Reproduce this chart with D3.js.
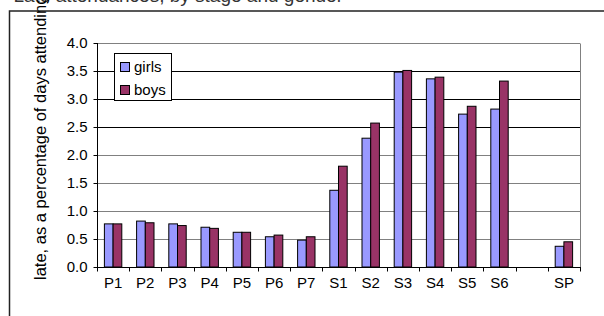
<!DOCTYPE html>
<meta charset="utf-8">
<head>
<title>Late attendances by stage and gender</title>
<script type="text/javascript" src="https://d3js.org/d3.v7.min.js"></script>
<style>
    body { margin: 0; background: #fff; }
    text { font-family: "Liberation Sans", Arial, sans-serif; fill: #000; }
</style>
</head>
<body>
<div id="chart"></div>
<script>
    // data
    var stages = ["P1", "P2", "P3", "P4", "P5", "P6", "P7", "S1", "S2", "S3", "S4", "S5", "S6", "", "SP"];
    var girls = [0.77, 0.82, 0.77, 0.71, 0.62, 0.54, 0.48, 1.37, 2.30, 3.48, 3.36, 2.73, 2.82, null, 0.37];
    var boys  = [0.77, 0.79, 0.74, 0.69, 0.62, 0.57, 0.54, 1.80, 2.57, 3.51, 3.39, 2.87, 3.32, null, 0.45];
    var yTicks = [0, 0.5, 1, 1.5, 2, 2.5, 3, 3.5, 4];
    var series = ["girls", "boys"];
    var colors = {girls: "#9999ff", boys: "#993366"};

    var width = 604, height = 316;
    var plot = {left: 97, right: 580, top: 43, bottom: 267};

    var svg = d3.select("#chart").append("svg")
        .attr("width", width)
        .attr("height", height);

    // title, mostly cut off at the top
    svg.append("text")
        .attr("x", 343).attr("y", 2)
        .attr("text-anchor", "end")
        .style("font-size", "19px")
        .style("fill", "#333")
        .text("Late attendances, by stage and gender");

    // outer chart frame (runs off the picture)
    svg.append("path")
        .attr("d", "M9.5," + (height + 5) + "V11H" + (width + 5))
        .attr("fill", "none")
        .attr("stroke", "#222")
        .attr("stroke-width", 1.5);

    var x = d3.scaleBand().domain(d3.range(stages.length))
        .range([plot.left, plot.right]);
    var xInner = d3.scaleBand().domain(series)
        .range([0, x.bandwidth()]).paddingOuter(0.85).paddingInner(0);
    var y = d3.scaleLinear().domain([0, 4]).range([plot.bottom, plot.top]);

    // grid lines
    svg.append("g").selectAll("line")
        .data(yTicks.filter(function (d) { return d > 0; }))
        .enter().append("line")
        .attr("x1", plot.left).attr("x2", plot.right)
        .attr("y1", function (d) { return Math.round(y(d)) + 0.5; })
        .attr("y2", function (d) { return Math.round(y(d)) + 0.5; })
        .attr("stroke", function (d) { return d >= 2.5 && d < 4 ? "#000" : "#808080"; });

    // right border of plot area
    svg.append("line")
        .attr("x1", plot.right + 0.5).attr("x2", plot.right + 0.5)
        .attr("y1", Math.round(y(4)) + 0.5).attr("y2", plot.bottom)
        .attr("stroke", "#808080");

    // bars
    var rows = stages.map(function (s, i) { return {i: i, girls: girls[i], boys: boys[i]}; });
    var groups = svg.append("g").selectAll("g")
        .data(rows)
        .enter().append("g")
        .attr("transform", function (d) { return "translate(" + x(d.i) + ",0)"; });
    groups.selectAll("rect")
        .data(function (d) {
            return series.filter(function (k) { return d[k] != null; })
                .map(function (k) { return {key: k, value: d[k]}; });
        })
        .enter().append("rect")
        .attr("x", function (d) { return xInner(d.key); })
        .attr("width", xInner.bandwidth())
        .attr("y", function (d) { return y(d.value); })
        .attr("height", function (d) { return y(0) - y(d.value); })
        .attr("fill", function (d) { return colors[d.key]; })
        .attr("stroke", "#000")
        .attr("stroke-width", 1);

    // y axis
    var yAxis = svg.append("g")
        .attr("transform", "translate(" + (plot.left + 0.5) + ",0)")
        .call(d3.axisLeft(y).tickValues(yTicks).tickFormat(d3.format(".1f"))
            .tickSize(4).tickPadding(6));
    yAxis.select(".domain").attr("stroke", "#000").attr("d", "M0," + y(4) + "V" + (plot.bottom + 0.5));
    yAxis.selectAll(".tick line").attr("stroke", "#000");
    yAxis.selectAll("text").style("font-size", "15px").attr("fill", "#000");

    // x axis: ticks between categories
    var xAxis = svg.append("g")
        .attr("transform", "translate(0," + (plot.bottom + 0.5) + ")");
    xAxis.append("line")
        .attr("x1", plot.left).attr("x2", plot.right + 1)
        .attr("stroke", "#000");
    xAxis.selectAll("line.tk")
        .data(d3.range(stages.length + 1))
        .enter().append("line")
        .attr("class", "tk")
        .attr("x1", function (d) { return Math.round(plot.left + d * x.step()) + 0.5; })
        .attr("x2", function (d) { return Math.round(plot.left + d * x.step()) + 0.5; })
        .attr("y1", 0).attr("y2", 4)
        .attr("stroke", "#000");
    xAxis.selectAll("text")
        .data(stages)
        .enter().append("text")
        .attr("x", function (d, i) { return x(i) + x.bandwidth() / 2; })
        .attr("y", 20)
        .attr("text-anchor", "middle")
        .style("font-size", "15px")
        .text(function (d) { return d; });

    // y axis title
    svg.append("text")
        .attr("transform", "translate(46,280) rotate(-90)")
        .attr("text-anchor", "start")
        .style("font-size", "16.5px")
        .text("late, as a percentage of days attending");

    // legend
    var lg = svg.append("g").attr("transform", "translate(114,53)");
    lg.append("rect")
        .attr("x", 0.5).attr("y", 0.5)
        .attr("width", 57).attr("height", 47)
        .attr("fill", "#fff").attr("stroke", "#000");
    var items = lg.selectAll("g.item")
        .data(series)
        .enter().append("g")
        .attr("class", "item")
        .attr("transform", function (d, i) { return "translate(6," + (9 + i * 23) + ")"; });
    items.append("rect")
        .attr("x", 0.5).attr("y", 0.5)
        .attr("width", 9).attr("height", 9)
        .attr("fill", function (d) { return colors[d]; })
        .attr("stroke", "#000");
    items.append("text")
        .attr("x", 14).attr("y", 10)
        .style("font-size", "15px")
        .text(function (d) { return d; });
</script>
</body>
</html>
